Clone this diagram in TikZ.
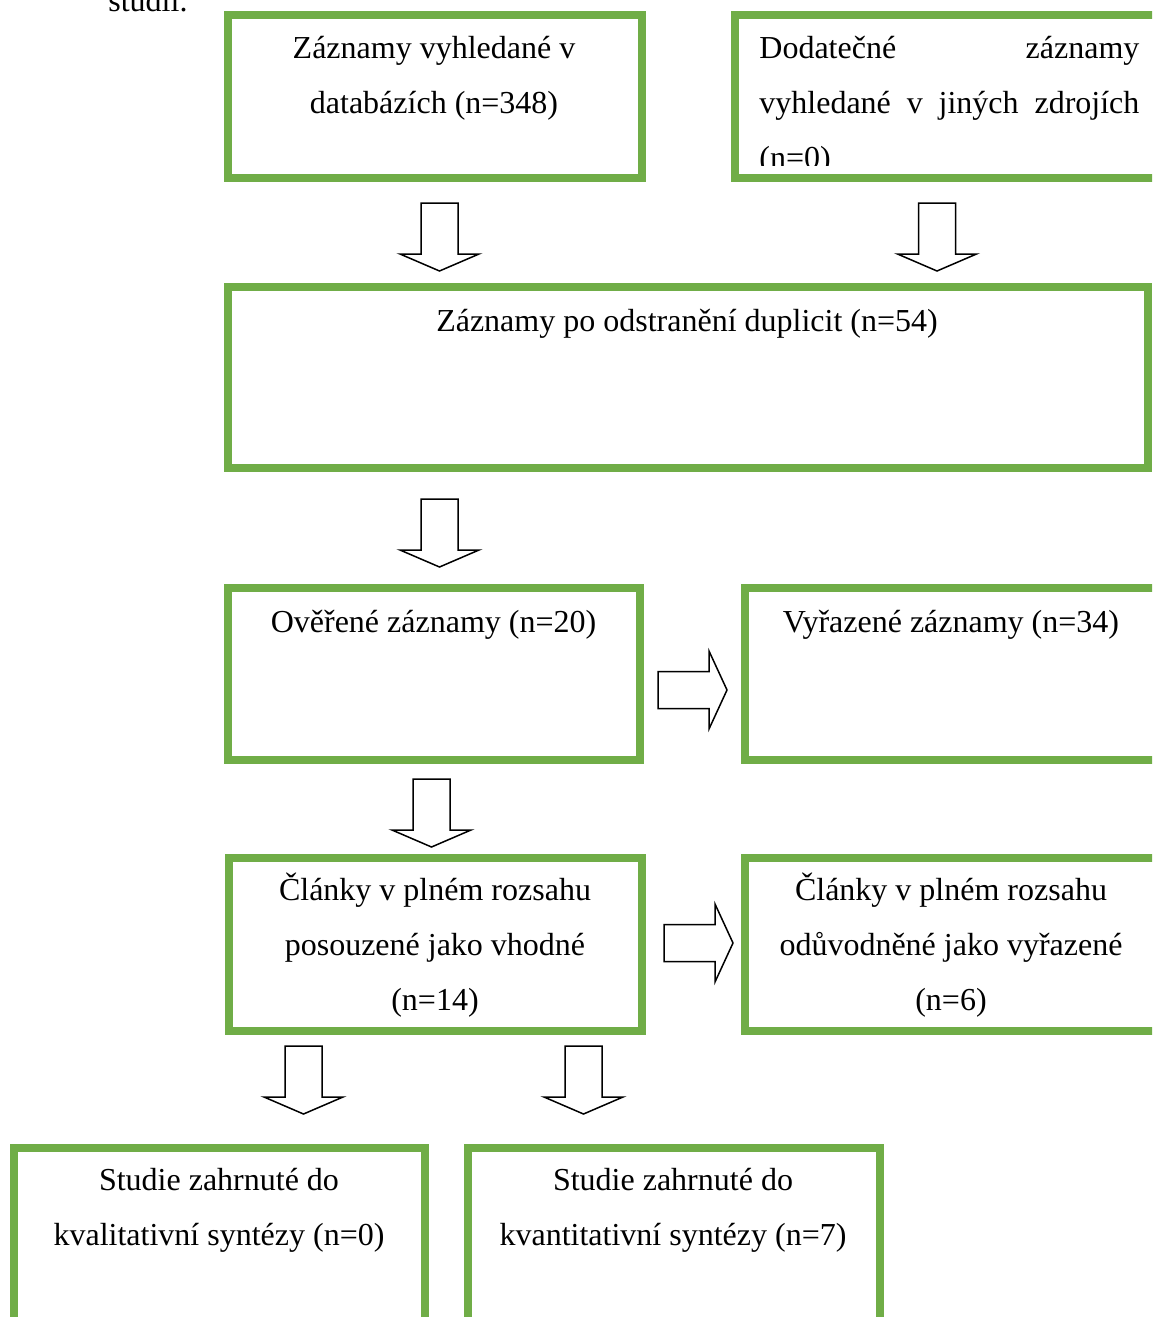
\documentclass[tikz,border=0pt]{standalone}
\usepackage{fontspec}
\setmainfont{Liberation Serif}
\definecolor{boxgreen}{HTML}{70AD47}
\tikzset{
  box/.style={draw=boxgreen, line width=4pt, rectangle, inner sep=0pt},
  txt/.style={font=\fontsize{16pt}{27.5pt}\selectfont, inner sep=0pt, anchor=base},
  blockarrow/.style={draw=black, line width=0.75pt, fill=white, line join=miter},
  darr/.pic={\draw[blockarrow] (-18.5,0) -- (18.5,0) -- (18.5,51) -- (39.5,51) -- (0,68) -- (-39.5,51) -- (-18.5,51) -- cycle;},
  rarr/.pic={\draw[blockarrow] (0,-18.5) -- (51,-18.5) -- (51,-39) -- (69,0) -- (51,39) -- (51,18.5) -- (0,18.5) -- cycle;}
}
\begin{document}
\begin{tikzpicture}[x=0.5pt,y=-0.5pt]
\useasboundingbox (0,0) rectangle (1152,1317);
\clip (0,0) rectangle (1152,1317);
\fill[white] (0,0) rectangle (1152,1317);

% caption fragment
\node[txt, anchor=base west] (cap) at (108,11) {studií.};

% boxes
\node[box, minimum width=207pt, minimum height=81.5pt] (b1) at (435,96.5) {};
\node[box, minimum width=217.5pt, minimum height=81.5pt] (b2) at (952.5,96.5) {};
\node[box, minimum width=460pt, minimum height=90.5pt] (b3) at (688,377.5) {};
\node[box, minimum width=206pt, minimum height=86pt] (b4) at (434,674) {};
\node[box, minimum width=212.5pt, minimum height=86pt] (b5) at (957.5,674) {};
\node[box, minimum width=206.5pt, minimum height=86.5pt] (b6) at (435.5,944.5) {};
\node[box, minimum width=212.5pt, minimum height=86.5pt] (b7) at (957.5,944.5) {};
\node[box, minimum width=205.5pt, minimum height=96pt] (b8) at (219.5,1244) {};
\node[box, minimum width=206pt, minimum height=96pt] (b9) at (674,1244) {};

% texts
\node[txt] (t1a) at (434,58) {Záznamy vyhledané v};
\node[txt] (t1b) at (434,113) {databázích (n=348)};
\begin{scope}
\clip (739,0) rectangle (1152,165);
\node[txt, anchor=base west] (t2a) at (759,58) {\makebox[190pt][s]{Dodatečné záznamy}};
\node[txt, anchor=base west] (t2b) at (759,113) {\makebox[190pt][s]{vyhledané v jiných zdrojích}};
\node[txt, anchor=base west] (t2c) at (759,168) {(n=0)};
\end{scope}
\node[txt] (t3) at (687,331) {Záznamy po odstranění duplicit (n=54)};
\node[txt] (t4) at (433.5,632) {Ověřené záznamy (n=20)};
\node[txt] (t5) at (951,632) {Vyřazené záznamy (n=34)};
\node[txt] (t6a) at (435,900) {Články v plném rozsahu};
\node[txt] (t6b) at (435,955) {posouzené jako vhodné};
\node[txt] (t6c) at (435,1010) {(n=14)};
\node[txt] (t7a) at (951,900) {Články v plném rozsahu};
\node[txt] (t7b) at (951,955) {odůvodněné jako vyřazené};
\node[txt] (t7c) at (951,1010) {(n=6)};
\node[txt] (t8a) at (219,1190) {Studie zahrnuté do};
\node[txt] (t8b) at (219,1245) {kvalitativní syntézy (n=0)};
\node[txt] (t9a) at (673,1190) {Studie zahrnuté do};
\node[txt] (t9b) at (673,1245) {kvantitativní syntézy (n=7)};

% block arrows
\pic (a1) at (439.5,203) {darr};
\pic (a2) at (937,203) {darr};
\pic (a3) at (439.5,499) {darr};
\pic (a4) at (431.5,779) {darr};
\pic (a5) at (303.5,1046) {darr};
\pic (a6) at (583.5,1046) {darr};
\pic (r1) at (658,690) {rarr};
\pic (r2) at (664,943) {rarr};
\end{tikzpicture}
\end{document}
